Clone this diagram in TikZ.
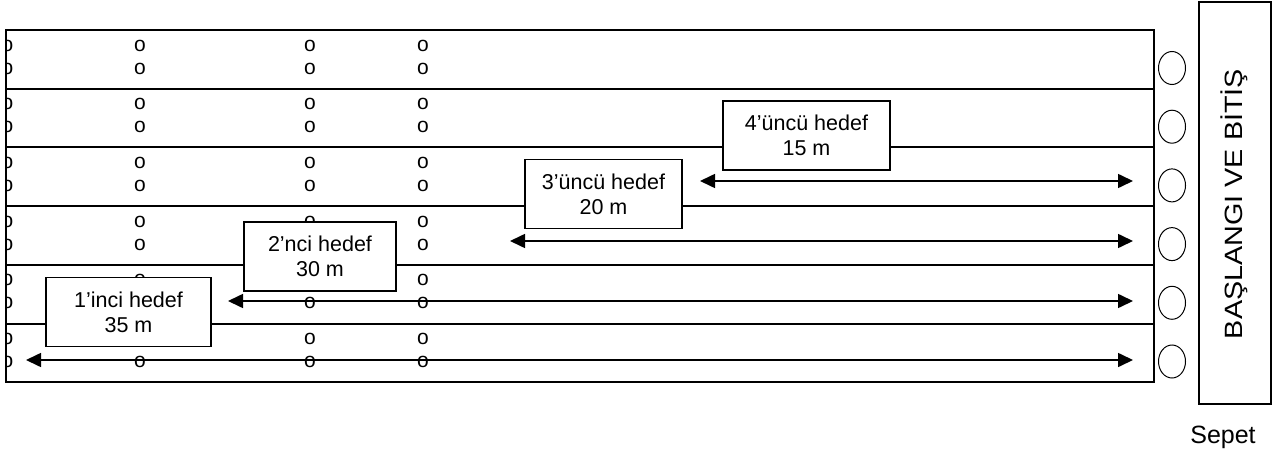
\documentclass[tikz,border=0pt]{standalone}
\usepackage{fontspec}
\setmainfont{Liberation Sans}
\newfontfamily\rotfont[FakeStretch=1.15]{Liberation Sans}
\usetikzlibrary{arrows.meta,shapes.geometric}
\begin{document}
\begin{tikzpicture}[x=1pt,y=-1pt,
  rowline/.style={line width=2pt},
  hedefbox/.style={draw, line width=1.6pt, fill=white, minimum height=69pt,
    inner sep=0pt, align=center, font=\fontsize{21.5}{25}\selectfont},
  dot/.style={inner sep=0pt, font=\fontsize{21}{21}\selectfont},
  distarrow/.style={line width=1.6pt,
    {Triangle[length=15pt,width=14pt]}-{Triangle[length=15pt,width=14pt]}},
  basket/.style={draw, ellipse, line width=1pt, minimum width=27pt,
    minimum height=33pt, inner sep=0pt},
  startbox/.style={draw, line width=1.5pt, minimum width=72pt,
    minimum height=402pt, inner sep=0pt}]
\useasboundingbox (0,0) rectangle (1272,452);

% o marks (those fully hidden behind the target boxes are left out)
\foreach \r in {0,...,5}{
  \foreach \c in {140,310,423}{
    \pgfmathtruncatemacro\skipa{((\c==310 && \r==4) || (\c==140 && \r==5)) ? 1 : 0}
    \pgfmathtruncatemacro\skipb{((\c==310 && \r==3) || (\c==140 && \r==4)) ? 1 : 0}
    \ifnum\skipa=0 \node[dot] (o-\r-\c-a) at (\c,{30+58.7*\r+15.5}) {o};\fi
    \ifnum\skipb=0 \node[dot] (o-\r-\c-b) at (\c,{30+58.7*\r+38.5}) {o};\fi
  }
}
\begin{scope}
  \clip (6,0) rectangle (30,452);
  \foreach \r in {0,...,5}{
    \node[dot] (o-\r-l-a) at (7.5,{30+58.7*\r+15.5}) {o};
    \node[dot] (o-\r-l-b) at (7.5,{30+58.7*\r+38.5}) {o};
  }
\end{scope}

% lanes
\draw[rowline] (6,30) rectangle (1154,382.2);
\foreach \r in {1,...,5}{
  \draw[rowline] (6,{30+58.7*\r}) -- (1154,{30+58.7*\r});
}

% distance arrows
\coordinate (a4l) at (700,181);  \coordinate (a4r) at (1133,181);
\coordinate (a3l) at (510,241);  \coordinate (a3r) at (1133,241);
\coordinate (a2l) at (228,301);  \coordinate (a2r) at (1133,301);
\coordinate (a1l) at (26,360);   \coordinate (a1r) at (1133,360);
\draw[distarrow] (a4l) -- (a4r);
\draw[distarrow] (a3l) -- (a3r);
\draw[distarrow] (a2l) -- (a2r);
\draw[distarrow] (a1l) -- (a1r);

% target boxes
\node[hedefbox, minimum width=167pt] (h4) at (806.5,135.5) {4’üncü hedef\\15 m};
\node[hedefbox, minimum width=157pt] (h3) at (603.5,194) {3’üncü hedef\\20 m};
\node[hedefbox, minimum width=152pt] (h2) at (320,256.5) {2’nci hedef\\30 m};
\node[hedefbox, minimum width=165pt] (h1) at (128.5,312) {1’inci hedef\\35 m};

% baskets
\foreach \r in {0,...,5}{
  \node[basket] (s\r) at (1172,{30+58.7*\r+38}) {};
}

% start / finish
\node[startbox] (start) at (1235,203) {};
\node[rotate=90, anchor=base, inner sep=0pt,
  font=\rotfont\fontsize{25}{25}\selectfont] (starttext) at (1242,204)
  {BAŞLANGI VE BİTİŞ};
\node[anchor=base, inner sep=0pt, font=\fontsize{25}{25}\selectfont]
  (sepet) at (1223,443) {Sepet};
\end{tikzpicture}
\end{document}
